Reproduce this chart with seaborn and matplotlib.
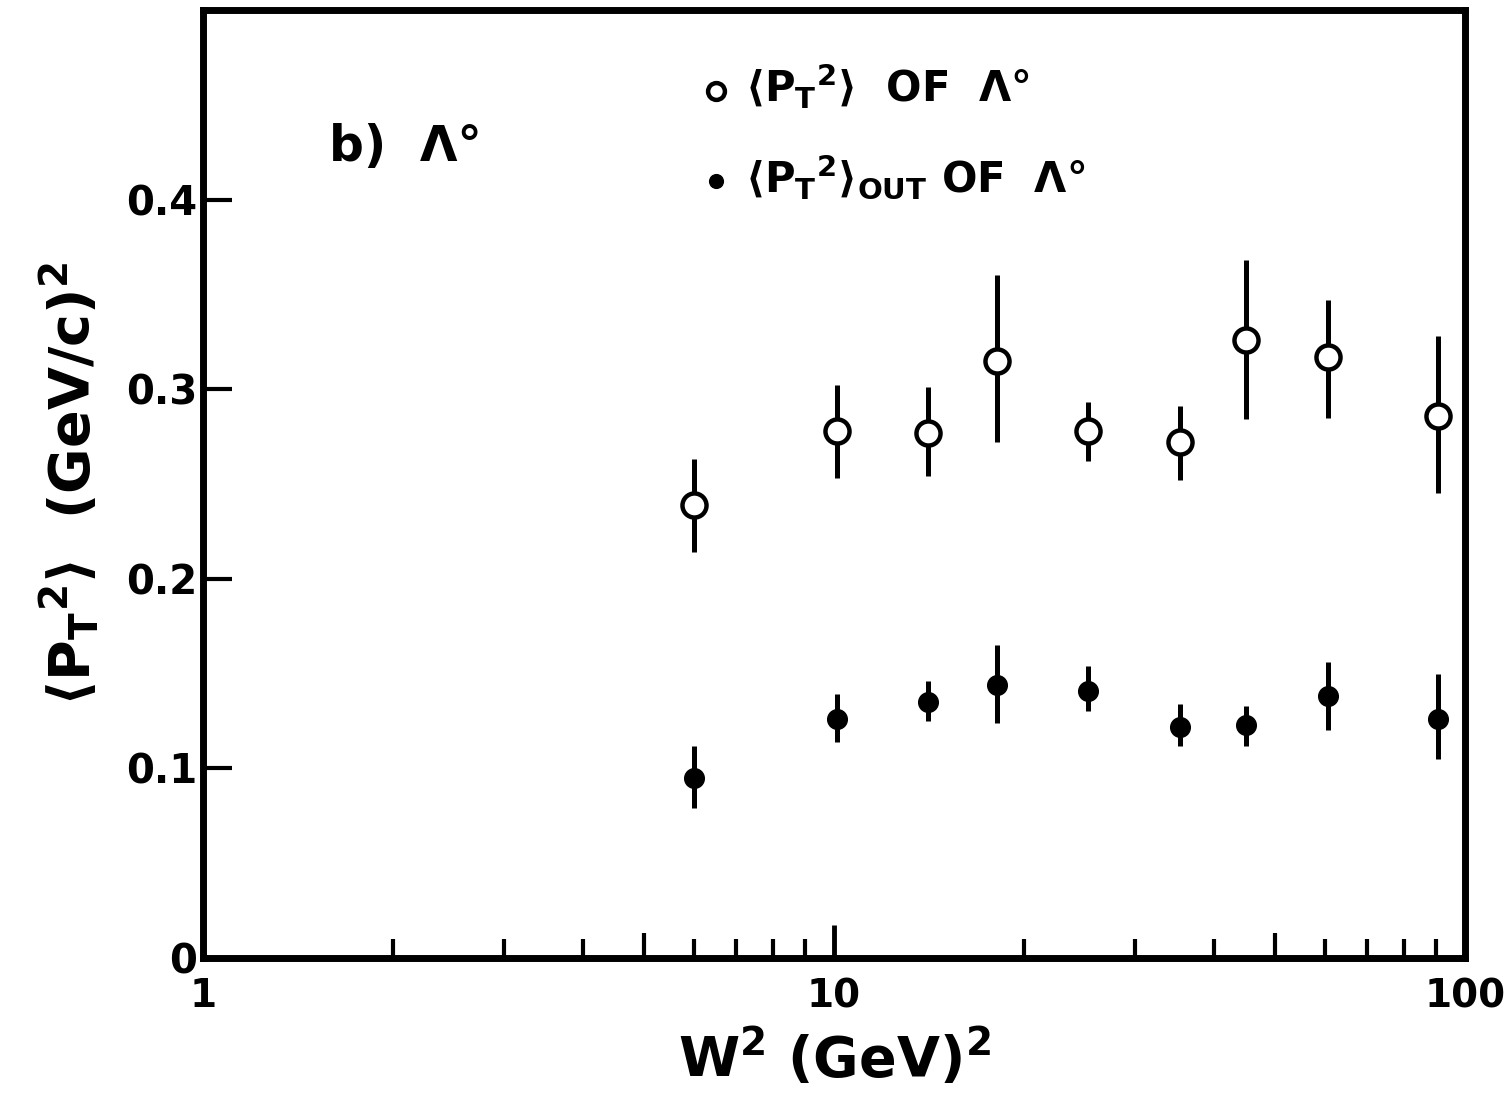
import numpy as np
import matplotlib
matplotlib.use("Agg")
import matplotlib.pyplot as plt
import matplotlib.ticker as mticker
import seaborn as sns

# W^2 bins (GeV^2)
w2 = [6.0, 10.1, 14.1, 18.1, 25.3, 35.3, 45.0, 60.7, 90.6]

# <pT^2> of Lambda0 (open circles)
pt2 = [0.239, 0.278, 0.277, 0.315, 0.278, 0.272, 0.326, 0.317, 0.286]
pt2_hi = [0.263, 0.302, 0.301, 0.360, 0.293, 0.291, 0.368, 0.347, 0.328]
pt2_lo = [0.214, 0.253, 0.254, 0.272, 0.262, 0.252, 0.284, 0.285, 0.245]

# <pT^2>_out of Lambda0 (filled circles)
pt2_out = [0.095, 0.126, 0.135, 0.144, 0.141, 0.122, 0.123, 0.138, 0.126]
pt2_out_hi = [0.112, 0.139, 0.146, 0.165, 0.154, 0.134, 0.133, 0.156, 0.150]
pt2_out_lo = [0.079, 0.114, 0.125, 0.124, 0.130, 0.112, 0.112, 0.120, 0.105]

y_ticks = [0, 0.1, 0.2, 0.3, 0.4]
y_labels = ["0", "0.1", "0.2", "0.3", "0.4"]

sns.set_style("white")
plt.rcParams['font.family'] = ['DejaVu Sans']
plt.rcParams['mathtext.fontset'] = 'dejavusans'
plt.rcParams['mathtext.default'] = 'bf'
for key in ('text.color', 'axes.labelcolor', 'xtick.color', 'ytick.color'):
    plt.rcParams[key] = 'black'

fig = plt.figure(figsize=(15.04, 10.98), dpi=100)
ax = fig.add_axes([0.135, 0.1275, 0.839, 0.8635])

# error bars first, markers on top
ax.vlines(w2, pt2_lo, pt2_hi, color="black", lw=3.6, zorder=2)
ax.vlines(w2, pt2_out_lo, pt2_out_hi, color="black", lw=3.6, zorder=2)

sns.scatterplot(x=w2, y=pt2, ax=ax, marker="o", s=300, facecolor="white",
                edgecolor="black", linewidth=3.2, zorder=3,
                label=r"$\langle P_T{}^{2}\rangle$  OF  Λ°")
sns.scatterplot(x=w2, y=pt2_out, ax=ax, marker="o", s=200, color="black",
                edgecolor="black", linewidth=1, zorder=3,
                label=r"$\langle P_T{}^{2}\rangle_{OUT}$ OF  Λ°")

ax.set_xscale("log")
ax.set_xlim(1, 100)
ax.set_ylim(0, 0.5)

for sp in ax.spines.values():
    sp.set_linewidth(5)
    sp.set_color("black")

ax.set_yticks(y_ticks)
ax.set_yticklabels(y_labels)
ax.xaxis.set_major_locator(mticker.FixedLocator([1, 10, 100]))
ax.xaxis.set_major_formatter(mticker.FixedFormatter(["1", "10", "100"]))
minor = [2, 3, 4, 5, 6, 7, 8, 9, 20, 30, 40, 50, 60, 70, 80, 90]
ax.xaxis.set_minor_locator(mticker.FixedLocator(minor))
ax.xaxis.set_minor_formatter(mticker.NullFormatter())

ax.tick_params(axis="y", which="major", direction="in", length=21, width=3,
               labelsize=29, pad=4, left=True, right=False)
ax.tick_params(axis="x", which="major", direction="in", length=24, width=3.5,
               labelsize=28, pad=14, bottom=True, top=False)
ax.tick_params(axis="x", which="minor", direction="in", length=14, width=3,
               bottom=True, top=False)
for loc, tick in zip(minor, ax.xaxis.get_minor_ticks()):
    if loc in (5, 50):
        tick.tick1line.set_markersize(18)
for lab in ax.get_xticklabels() + ax.get_yticklabels():
    lab.set_fontweight("bold")

ax.set_xlabel(r"W$^2$ (GeV)$^2$", fontsize=40, fontweight="bold", labelpad=8)
ax.set_ylabel(r"$\langle P_T{}^{2}\rangle$  (GeV/c)$^2$", fontsize=40,
              fontweight="bold", labelpad=18)

ax.text(0.10, 0.855, "b)  Λ°", transform=ax.transAxes, fontsize=35,
        fontweight="bold", va="center", ha="left")

leg = ax.legend(loc="upper left", bbox_to_anchor=(0.36, 0.985), frameon=False,
                fontsize=30, markerscale=0.7, handletextpad=0.2,
                labelspacing=1.0, handlelength=1.0)
for t in leg.get_texts():
    t.set_fontweight("bold")

fig.savefig("out.png", dpi=100, facecolor="white")
